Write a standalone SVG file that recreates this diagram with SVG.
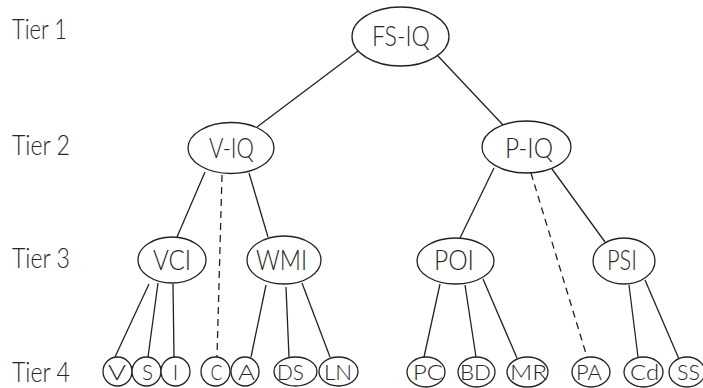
<svg xmlns="http://www.w3.org/2000/svg" width="703" height="388" viewBox="0 0 703 388">
<style>
.n ellipse{fill:#fff;stroke:#222;stroke-width:1.3}
text{font-family:Lato,"Liberation Sans",Arial,sans-serif;font-weight:300;fill:#262626;text-anchor:middle}
.big{font-size:27px}
.sm{font-size:21px}
.tier{text-anchor:start;font-size:27px}
#edges line{stroke:#222;stroke-width:1.3}
#edges .d{stroke-dasharray:7 5}
</style>
<rect width="703" height="388" fill="#fff"/>
<g id="tiers">
<text class="tier" x="12" y="39" textLength="55" lengthAdjust="spacingAndGlyphs">Tier 1</text>
<text class="tier" x="12" y="155" textLength="58" lengthAdjust="spacingAndGlyphs">Tier 2</text>
<text class="tier" x="12" y="268" textLength="58" lengthAdjust="spacingAndGlyphs">Tier 3</text>
<text class="tier" x="12" y="382" textLength="58" lengthAdjust="spacingAndGlyphs">Tier 4</text>
</g>
<g id="edges">
<line x1="358" y1="51" x2="257" y2="127"/>
<line x1="438" y1="56" x2="503" y2="125"/>
<line x1="205" y1="172" x2="177" y2="237"/>
<line class="d" x1="222" y1="175" x2="217" y2="357"/>
<line x1="249" y1="173" x2="268" y2="237"/>
<line x1="494" y1="168" x2="460" y2="238"/>
<line class="d" x1="531" y1="173" x2="587" y2="357"/>
<line x1="552" y1="169" x2="605" y2="242"/>
<line x1="149" y1="284" x2="115" y2="357"/>
<line x1="158" y1="283" x2="148" y2="357"/>
<line x1="173" y1="284" x2="174" y2="357"/>
<line x1="266" y1="285" x2="251" y2="357"/>
<line x1="286" y1="287" x2="289" y2="357"/>
<line x1="302" y1="283" x2="330" y2="357"/>
<line x1="440" y1="284" x2="424" y2="357"/>
<line x1="465" y1="285" x2="476" y2="357"/>
<line x1="483" y1="279" x2="517" y2="358"/>
<line x1="629" y1="285" x2="638" y2="357"/>
<line x1="645" y1="280" x2="679" y2="359"/>
</g>
<g id="FSIQ" class="n"><ellipse cx="400.5" cy="36.5" rx="48.5" ry="29.5"/><text class="big" x="401" y="46" textLength="58" lengthAdjust="spacingAndGlyphs">FS-IQ</text></g>
<g id="VIQ" class="n"><ellipse cx="231" cy="148" rx="43" ry="25.5"/><text class="big" x="231.5" y="158" textLength="45" lengthAdjust="spacingAndGlyphs">V-IQ</text></g>
<g id="PIQ" class="n"><ellipse cx="526.5" cy="147" rx="44.5" ry="26"/><text class="big" x="529" y="158" textLength="48" lengthAdjust="spacingAndGlyphs">P-IQ</text></g>
<g id="VCI" class="n"><ellipse cx="172" cy="260" rx="34" ry="23"/><text class="big" x="172" y="270" textLength="38" lengthAdjust="spacingAndGlyphs">VCI</text></g>
<g id="WMI" class="n"><ellipse cx="284" cy="260" rx="37" ry="24"/><text class="big" x="281.5" y="270" textLength="51" lengthAdjust="spacingAndGlyphs">WMI</text></g>
<g id="POI" class="n"><ellipse cx="455.5" cy="261" rx="38.5" ry="23"/><text class="big" x="454" y="270" textLength="40" lengthAdjust="spacingAndGlyphs">POI</text></g>
<g id="PSI" class="n"><ellipse cx="624" cy="261" rx="31" ry="23"/><text class="big" x="622" y="270" textLength="30" lengthAdjust="spacingAndGlyphs">PSI</text></g>
<g id="V" class="n"><ellipse cx="117.5" cy="371.5" rx="14.5" ry="14.5"/><text class="sm" x="117" y="380" textLength="18" lengthAdjust="spacingAndGlyphs">V</text></g>
<g id="S" class="n"><ellipse cx="146.5" cy="371.5" rx="14.5" ry="14.5"/><text class="sm" x="147.5" y="380" textLength="11" lengthAdjust="spacingAndGlyphs">S</text></g>
<g id="I" class="n"><ellipse cx="175.5" cy="371.5" rx="14.5" ry="14.5"/><text class="sm" x="175.5" y="380">I</text></g>
<g id="C" class="n"><ellipse cx="215.5" cy="371.5" rx="14.5" ry="14.5"/><text class="sm" x="216.5" y="380" textLength="12" lengthAdjust="spacingAndGlyphs">C</text></g>
<g id="A" class="n"><ellipse cx="245" cy="371.5" rx="14" ry="14.5"/><text class="sm" x="246.5" y="380" textLength="17" lengthAdjust="spacingAndGlyphs">A</text></g>
<g id="DS" class="n"><ellipse cx="295.5" cy="371.5" rx="21.5" ry="14.5"/><text class="sm" x="290.5" y="380" textLength="27" lengthAdjust="spacingAndGlyphs">DS</text></g>
<g id="LN" class="n"><ellipse cx="338.5" cy="371.5" rx="19.5" ry="14.5"/><text class="sm" x="338" y="380" textLength="28" lengthAdjust="spacingAndGlyphs">LN</text></g>
<g id="PC" class="n"><ellipse cx="426" cy="372" rx="19" ry="15"/><text class="sm" x="428" y="380" textLength="30" lengthAdjust="spacingAndGlyphs">PC</text></g>
<g id="BD" class="n"><ellipse cx="476.5" cy="372" rx="18.5" ry="15"/><text class="sm" x="475.5" y="380" textLength="31" lengthAdjust="spacingAndGlyphs">BD</text></g>
<g id="MR" class="n"><ellipse cx="527.5" cy="372" rx="20.5" ry="15"/><text class="sm" x="528.5" y="380" textLength="37" lengthAdjust="spacingAndGlyphs">MR</text></g>
<g id="PA" class="n"><ellipse cx="591" cy="372" rx="19" ry="15"/><text class="sm" x="589" y="380" textLength="26" lengthAdjust="spacingAndGlyphs">PA</text></g>
<g id="Cd" class="n"><ellipse cx="643.5" cy="372" rx="19.5" ry="15"/><text class="sm" x="644.5" y="380" textLength="29" lengthAdjust="spacingAndGlyphs">Cd</text></g>
<g id="SS" class="n"><ellipse cx="687" cy="372" rx="18" ry="15"/><text class="sm" x="688.5" y="380" textLength="23" lengthAdjust="spacingAndGlyphs">SS</text></g>
</svg>
